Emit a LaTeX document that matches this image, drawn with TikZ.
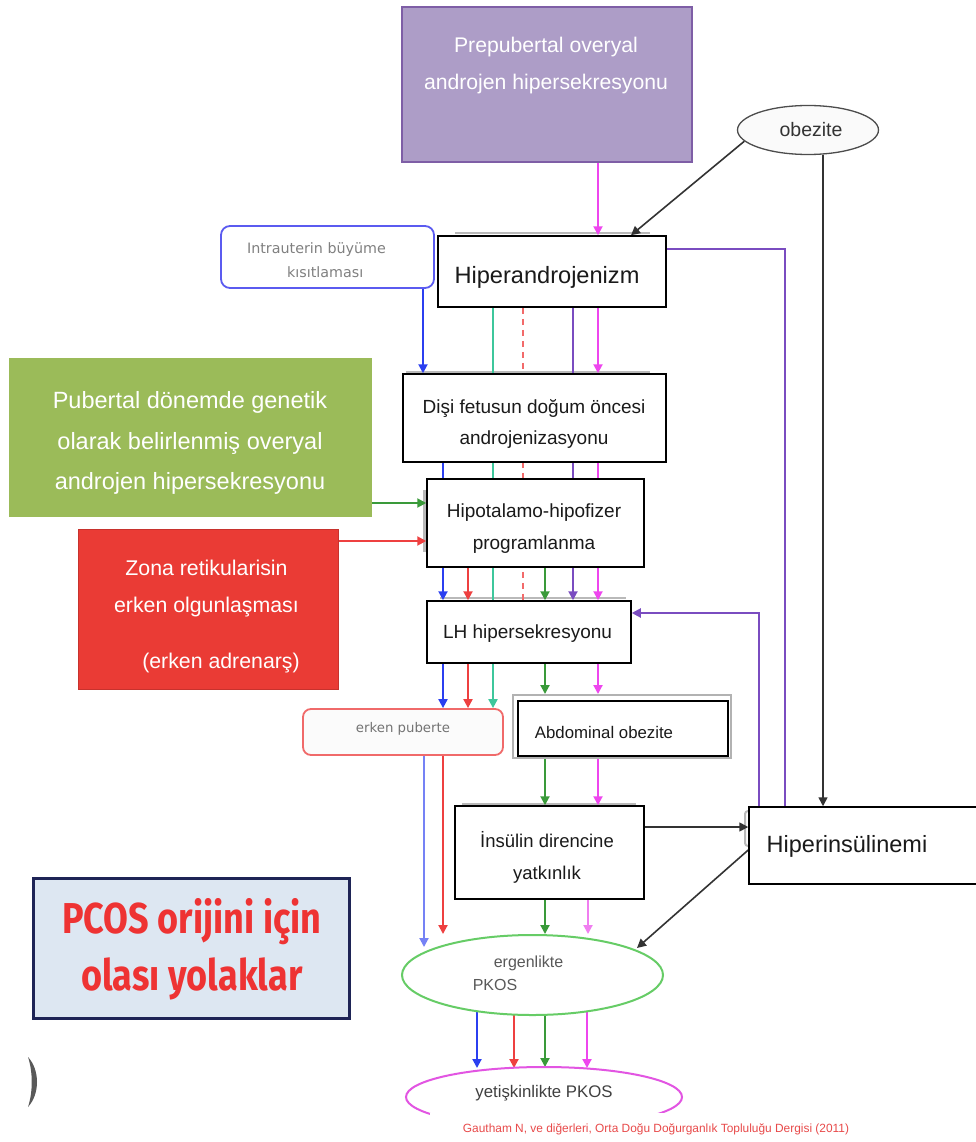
\documentclass[tikz,border=0pt]{standalone}
\usepackage{fontspec}
\setmainfont{Liberation Sans}
\newfontfamily\vfont{DejaVu Sans}
\newfontfamily\pcosfont{Fira Sans}
\usetikzlibrary{arrows.meta,shapes.geometric}
\definecolor{prepfill}{HTML}{AD9DC7}
\definecolor{prepline}{HTML}{7E5EA6}
\definecolor{gfill}{HTML}{9BBB59}
\definecolor{rfill}{HTML}{EA3B35}
\definecolor{cblue}{HTML}{2B3FF0}
\definecolor{cred}{HTML}{EE4040}
\definecolor{cgreen}{HTML}{3A9A3A}
\definecolor{cteal}{HTML}{3EC79C}
\definecolor{cpurple}{HTML}{7A4CC0}
\definecolor{cmag}{HTML}{EE46EE}
\definecolor{cpink}{HTML}{F07EF0}
\definecolor{cdash}{HTML}{F26A6A}
\definecolor{intraline}{HTML}{5B5BF0}
\definecolor{publine}{HTML}{F06A6A}
\definecolor{ergline}{HTML}{66CC66}
\definecolor{yetline}{HTML}{E255E2}
\definecolor{pcosfill}{HTML}{DDE7F2}
\definecolor{pcosline}{HTML}{1E2456}
\definecolor{pcostext}{HTML}{EE3333}
\definecolor{citetext}{HTML}{E84A4A}
\definecolor{ink}{HTML}{1A1A1A}
\pgfdeclarelayer{bg}
\pgfsetlayers{bg,main}
\newcommand\fsz[2]{\fontsize{#1}{#2}\selectfont}

\begin{document}
\begin{tikzpicture}[x=1pt,y=-1pt,
  box/.style={draw=black, line width=1.5pt, fill=white, inner sep=0pt},
  txt/.style={inner sep=0pt, align=center, text=ink},
  arr/.style={line width=2pt, -{Triangle[length=9pt,width=9pt]}},
  link/.style={line width=2pt},
  ghost/.style={draw=gray!55, line width=2pt},
  blk/.style={draw=black!80, line width=1.6pt, -{Triangle[length=9pt,width=9pt]}},
]
\useasboundingbox (0,0) rectangle (976,1142);
\begin{pgfonlayer}{bg}
  \fill[white] (0,0) rectangle (976,1142);
\end{pgfonlayer}

% column and row guides for the connectors
\coordinate (c423) at (423,0);
\coordinate (c424) at (424,0);
\coordinate (c443) at (443,0);
\coordinate (c468) at (468,0);
\coordinate (c493) at (493,0);
\coordinate (c523) at (523,0);
\coordinate (c545) at (545,0);
\coordinate (c573) at (573,0);
\coordinate (c588) at (588,0);
\coordinate (c598) at (598,0);
\coordinate (c631) at (631,0);
\coordinate (c759) at (759,0);
\coordinate (c785) at (785,0);
\coordinate (c823) at (823,0);
\coordinate (y249) at (0,249);
\coordinate (y503) at (0,503);
\coordinate (y541) at (0,541);
\coordinate (y613) at (0,613);
\coordinate (y827) at (0,827);
\coordinate (y850) at (0,850);

% ---- top: prepubertal source and obesity ----
\node[draw=prepline, line width=2pt, fill=prepfill, minimum width=290pt, minimum height=155pt, inner sep=0pt] (prep) at (547,84.5) {};
\node[txt, text=white, font=\fsz{21.2}{37}] (preptext) at (546,66) {Prepubertal overyal\\androjen hipersekresyonu};

\node[ellipse, draw=black!70, line width=1.3pt, fill=gray!4, minimum width=141pt, minimum height=49pt, inner sep=0pt] (obez) at (808,130) {};
\node[txt, font=\fsz{19.5}{22}, text=black!80] (obeztext) at (811,130) {obezite};

% ---- intrauterine growth restriction ----
\node[draw=intraline, line width=1.8pt, rounded corners=9pt, fill=white, minimum width=213pt, minimum height=62pt, inner sep=0pt] (intra) at (327.5,257) {};
\node[inner sep=0pt, align=left, text=black!50, font=\vfont\fsz{14.3}{24}] (intratext) at (316.5,260) {Intrauterin büyüme\\\hspace*{40pt}kısıtlaması};

% ---- central chain ----
\node[box, minimum width=228pt, minimum height=71pt] (hyper) at (552,271.5) {};
\node[txt, font=\fsz{23.6}{28}] (hypertext) at (547,277) {Hiperandrojenizm};

\node[box, minimum width=263pt, minimum height=88pt] (disi) at (534.5,418) {};
\node[txt, font=\fsz{19}{31}] (disitext) at (534,424) {Dişi fetusun doğum öncesi\\androjenizasyonu};

\node[box, minimum width=217pt, minimum height=88pt] (hipo) at (535.5,523) {};
\node[txt, font=\fsz{19}{32}] (hipotext) at (534,529) {Hipotalamo-hipofizer\\programlanma};

\node[box, minimum width=204pt, minimum height=62pt] (lh) at (529,632) {};
\node[txt, font=\fsz{19}{22}] (lhtext) at (527.5,634) {LH hipersekresyonu};

\node[draw=publine, line width=1.8pt, rounded corners=8pt, fill=gray!3, minimum width=200pt, minimum height=46pt, inner sep=0pt] (pub) at (403,732) {};
\node[txt, text=black!55, font=\vfont\fsz{13.3}{16}] (pubtext) at (403,729) {erken puberte};

\node[draw=gray!60, line width=2pt, minimum width=218pt, minimum height=63pt, inner sep=0pt] (abdframe) at (622,726.5) {};
\node[box, minimum width=210pt, minimum height=55pt] (abd) at (623,728.5) {};
\node[txt, font=\fsz{16.8}{20}] (abdtext) at (604,732) {Abdominal obezite};

\node[box, minimum width=189pt, minimum height=93pt] (ins) at (549.5,852.5) {};
\node[txt, font=\fsz{18.5}{32}] (instext) at (547,857) {İnsülin direncine\\yatkınlık};

\node[box, minimum width=228pt, minimum height=77pt] (hins) at (863,845.5) {};
\node[txt, font=\fsz{23.5}{28}] (hinstext) at (847,846) {Hiperinsülinemi};

% ---- outcomes ----
\node[ellipse, draw=ergline, line width=2pt, fill=white, minimum width=261pt, minimum height=80pt, inner sep=0pt] (ergen) at (532.5,975) {};
\node[txt, text=black!65, font=\fsz{16}{18}] (ergtext) at (528.5,963) {ergenlikte};
\node[txt, text=black!65, font=\fsz{16}{18}] (pkostext) at (495,985) {PKOS};

\node[ellipse, draw=yetline, line width=2pt, fill=white, minimum width=276pt, minimum height=60pt, inner sep=0pt] (yetis) at (544,1097) {};
\node[txt, text=black!75, font=\fsz{16.8}{18}] (yetistext) at (544,1093) {yetişkinlikte PKOS};

\fill[white] (430,1113) rectangle (880,1142);
\node[txt, text=citetext, font=\fsz{11.9}{13}] (cite) at (656,1129) {Gautham N, ve diğerleri, Orta Doğu Doğurganlık Topluluğu Dergisi (2011)};

% ---- left side sources ----
\node[fill=gfill, minimum width=363pt, minimum height=159pt, inner sep=0pt] (greenb) at (190.5,437) {};
\node[txt, text=white, font=\fsz{23.5}{40.5}] (greentext) at (190,443) {Pubertal dönemde genetik\\olarak belirlenmiş overyal\\androjen hipersekresyonu};

\node[fill=rfill, draw=rfill!85!black, line width=1pt, minimum width=260pt, minimum height=160pt, inner sep=0pt] (redb) at (208,609) {};
\node[txt, text=white, font=\fsz{21.3}{37}] (redtext) at (206.5,589) {Zona retikularisin\\erken olgunlaşması};
\node[txt, text=white, font=\fsz{21.3}{37}] (adrentext) at (221,663) {(erken adrenarş)};

\node[draw=pcosline, line width=3pt, fill=pcosfill, minimum width=316pt, minimum height=140pt, inner sep=0pt] (pcos) at (191,948) {};
\node[txt, text=pcostext, font=\pcosfont\bfseries\fsz{36}{57}] (pcostitle) at (192,949) {\scalebox{1}[1.2]{PCOS orijini için}\\\scalebox{1}[1.2]{olası yolaklar}};

% small dark arc at the lower left edge
\fill[black!65] (28,1057) .. controls (40,1070) and (40,1094) .. (28,1107)
                         .. controls (33,1092) and (33,1072) .. (28,1057);

% ---- connectors (drawn under the boxes) ----
\begin{pgfonlayer}{bg}
  % faint offset edges behind some boxes
  \draw[ghost] (455,233) -- (650,233);
  \draw[ghost] (406,372) -- (650,372);
  \draw[ghost, line width=3pt] (424,490) -- (424,552);
  \draw[ghost] (440,598) -- (626,598);
  \draw[ghost] (462,804) -- (636,804);
  \draw[ghost, rounded corners=3pt] (749,811) -- (745,811) -- (745,846) -- (749,846);

  % blue path
  \draw[arr, cblue] (intra.south -| c423) -- (disi.north -| c423);
  \draw[arr, cblue] (disi.south -| c443) -- (lh.north -| c443);
  \draw[arr, cblue] (lh.south -| c443) -- (pub.north -| c443);
  \coordinate (blueE) at (424,947);
  \draw[arr, cblue!65] (pub.south -| c424) -- (blueE);
  \coordinate (blueS2) at (477,1011);
  \coordinate (blueE2) at (477,1068);
  \draw[arr, cblue] (blueS2) -- (blueE2);

  % red path
  \draw[arr, cred] (redb.east |- y541) -- (hipo.west |- y541);
  \draw[arr, cred] (hipo.south -| c468) -- (lh.north -| c468);
  \draw[arr, cred] (lh.south -| c468) -- (pub.north -| c468);
  \coordinate (redE) at (443,934);
  \draw[arr, cred] (pub.south -| c443) -- (redE);
  \coordinate (redS2) at (514,1014);
  \coordinate (redE2) at (514,1068);
  \draw[arr, cred] (redS2) -- (redE2);

  % green path
  \draw[arr, cgreen] (greenb.east |- y503) -- (hipo.west |- y503);
  \draw[arr, cgreen] (hipo.south -| c545) -- (lh.north -| c545);
  \draw[arr, cgreen] (lh.south -| c545) -- (abdframe.north -| c545);
  \draw[arr, cgreen] (abd.south -| c545) -- (ins.north -| c545);
  \draw[arr, cgreen] (ins.south -| c545) -- (ergen.north -| c545);
  \coordinate (greenS2) at (545,1015);
  \coordinate (greenE2) at (545,1067);
  \draw[arr, cgreen] (greenS2) -- (greenE2);

  % hyperandrogenism outputs
  \draw[arr, cteal] (hyper.south -| c493) -- (pub.north -| c493);
  \draw[link, cdash, dash pattern=on 6pt off 5pt] (hyper.south -| c523) -- (lh.north -| c523);
  \draw[arr, cpurple] (hyper.south -| c573) -- (lh.north -| c573);
  \draw[link, cpurple] (hyper.east |- y249) -| (hins.north -| c785);
  \draw[arr, cpurple] (hins.north -| c759) |- (lh.east |- y613);

  % magenta path
  \draw[arr, cmag] (prep.south -| c598) -- (hyper.north -| c598);
  \draw[arr, cmag] (hyper.south -| c598) -- (disi.north -| c598);
  \draw[arr, cmag] (disi.south -| c598) -- (lh.north -| c598);
  \draw[arr, cmag] (lh.south -| c598) -- (abdframe.north -| c598);
  \draw[arr, cmag] (abd.south -| c598) -- (ins.north -| c598);
  \coordinate (pinkE) at (588,934);
  \draw[arr, cpink] (ins.south -| c588) -- (pinkE);
  \coordinate (magS2) at (587,1011);
  \coordinate (magE2) at (587,1068);
  \draw[arr, cmag] (magS2) -- (magE2);

  % obesity and insulin links
  \draw[blk] (obez.190) -- (hyper.north -| c631);
  \draw[blk] (obez.south -| c823) -- (hins.north -| c823);
  \draw[blk] (ins.east |- y827) -- (hins.west |- y827);
  \coordinate (hinsE) at (637,948);
  \draw[blk] (hins.west |- y850) -- (hinsE);
\end{pgfonlayer}
\end{tikzpicture}
\end{document}
